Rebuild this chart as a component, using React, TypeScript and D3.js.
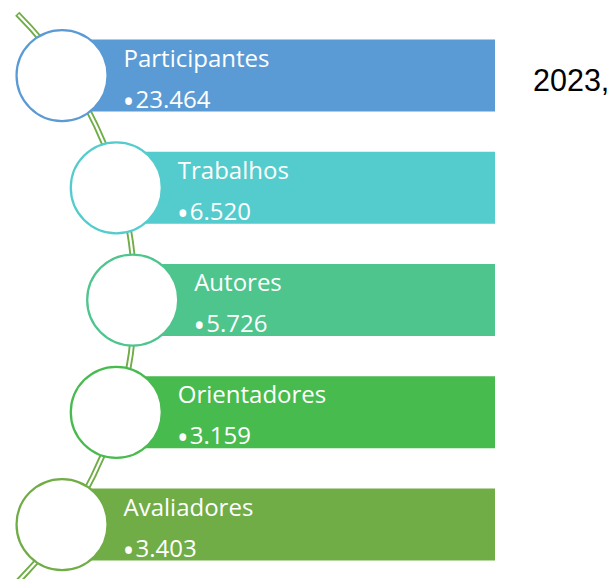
import React from "react";
import * as d3 from "d3";

const categories = ["Participantes", "Trabalhos", "Autores", "Orientadores", "Avaliadores"];
const values = ["23.464", "6.520", "5.726", "3.159", "3.403"];
const sideLabel = "2023,";

const W = 615;
const H = 579;

export default function App() {
  const y = d3.scalePoint<string>().domain(categories).range([75.5, 524.5]);
  const color = d3.interpolateHsl("#5b9bd5", "#70ad47");
  const n = categories.length;

  // circles lie on a large arc
  const cArcX = -259.3, cArcY = 300, cArcR = 392;
  const circleX = (cy: number) => cArcX + Math.sqrt(cArcR * cArcR - (cy - cArcY) ** 2);

  // connecting line arc
  const lx = -268, ly = 298, lr = 402.7;
  const a0 = Math.atan2(14 - ly, 17 - lx);
  const a1 = Math.atan2(302, 266.4);
  const outer = d3.path();
  outer.moveTo(lx + lr * Math.cos(a0), ly + lr * Math.sin(a0));
  outer.arc(lx, ly, lr, a0, a1, false);
  const d0 = a0 + 1.5 / lr;
  const inner = d3.path();
  inner.moveTo(lx + lr * Math.cos(d0), ly + lr * Math.sin(d0));
  inner.arc(lx, ly, lr, d0, a1, false);

  const barH = 72;
  const barRight = 495;
  const r = 45.5;
  const font = "'Open Sans', sans-serif";

  return (
    <svg width={W} height={H} style={{ position: "absolute", left: 0, top: 0, background: "#fff" }}>
      <path d={outer.toString()} fill="none" stroke="#70ad47" strokeWidth={6} />
      <path d={inner.toString()} fill="none" stroke="#fff" strokeWidth={2.2} />
      {categories.map((c, i) => {
        const cy = y(c)!;
        const cx = circleX(cy);
        const col = color(i / (n - 1));
        const tx = cx + 61.5;
        const top = cy - barH / 2;
        return (
          <g key={c}>
            <rect x={cx} y={top} width={barRight - cx} height={barH} fill={col} />
            <circle cx={cx} cy={cy} r={r} fill="#fff" stroke={col} strokeWidth={2.25} />
            <text x={tx} y={top + 27} fill="#fff" fontFamily={font} fontSize={24}>
              {c}
            </text>
            <text x={tx - 1} y={top + 73} fill="#fff" fontFamily={font} fontSize={32}>
              {"\u2022"}
            </text>
            <text x={tx + 12} y={top + 68} fill="#fff" fontFamily={font} fontSize={24}>
              {values[i]}
            </text>
          </g>
        );
      })}
      <text x={533} y={91} fill="#000" fontFamily="'Liberation Sans', Arial, sans-serif" fontSize={30.5}>
        {sideLabel}
      </text>
    </svg>
  );
}
